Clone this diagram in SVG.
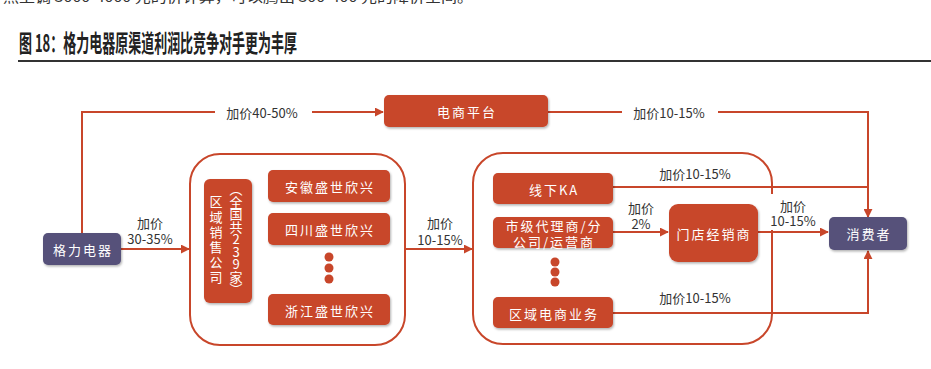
<svg xmlns="http://www.w3.org/2000/svg" width="931" height="369" viewBox="0 0 931 369">
<defs>
<style>
.box{fill:#c8462a;}
.pbox{fill:#56517a;}
.wt{fill:#fff;font-family:"Noto Sans CJK SC","Noto Sans",sans-serif;font-size:13px;letter-spacing:2px;text-anchor:middle;dominant-baseline:central;}
.lb{fill:#333;font-family:"Noto Sans CJK SC","Noto Sans",sans-serif;font-size:13px;text-anchor:middle;dominant-baseline:central;}
.vt{fill:#fff;font-family:"Noto Sans CJK SC","Noto Sans",sans-serif;font-size:13px;writing-mode:vertical-rl;text-orientation:upright;}
.ln{fill:none;stroke:#c8462a;stroke-width:2;}
.frame{fill:none;stroke:#c8462a;stroke-width:2;}
</style>
<marker id="ar" viewBox="0 0 10 10" refX="9" refY="5" markerWidth="4.5" markerHeight="4.5" orient="auto" markerUnits="strokeWidth">
<path d="M0,0 L10,5 L0,10 z" fill="#c8462a"/>
</marker>
<filter id="sh" x="-10%" y="-10%" width="130%" height="140%">
<feDropShadow dx="1" dy="1.5" stdDeviation="1.2" flood-color="#000" flood-opacity="0.3"/>
</filter>
</defs>
<rect width="931" height="369" fill="#fff"/>

<text x="3" y="2" font-family="Noto Sans CJK SC,sans-serif" font-size="14" fill="#333" textLength="470" lengthAdjust="spacingAndGlyphs">照上调 3000-4000 元的价计算，可以腾出 300-400 元的降价空间。</text>

<g id="title">
<text x="19" y="52" font-family="Noto Sans CJK SC,sans-serif" font-size="24" font-weight="bold" fill="#222" textLength="278" lengthAdjust="spacingAndGlyphs">图 18：格力电器原渠道利润比竞争对手更为丰厚</text>
<line x1="18" y1="61" x2="931" y2="61" stroke="#333" stroke-width="2"/>
</g>

<g id="frames">
<rect class="frame" x="190" y="154" width="215" height="191" rx="30"/>
<rect class="frame" x="473" y="153" width="299" height="191" rx="30"/>
</g>

<g id="connectors">
<polyline class="ln" points="82,233 82,112 215,112"/>
<line class="ln" x1="312" y1="112" x2="383" y2="112" marker-end="url(#ar)"/>
<line class="ln" x1="548" y1="112" x2="622" y2="112"/>
<polyline class="ln" points="718,112 868,112 868,217" marker-end="url(#ar)"/>
<line class="ln" x1="121" y1="249" x2="189" y2="249" marker-end="url(#ar)"/>
<line class="ln" x1="405" y1="249" x2="472" y2="249" marker-end="url(#ar)"/>
<line class="ln" x1="613" y1="187" x2="868" y2="187"/>
<line class="ln" x1="613" y1="232" x2="668" y2="232" marker-end="url(#ar)"/>
<line class="ln" x1="758" y1="232" x2="828" y2="232" marker-end="url(#ar)"/>
<polyline class="ln" points="613,313 868,313 868,251" marker-end="url(#ar)"/>
</g>

<g id="labels">
<text class="lb" x="262" y="112">加价40-50%</text>
<text class="lb" x="669" y="112">加价10-15%</text>
<text class="lb" x="150" y="222">加价</text>
<text class="lb" x="150" y="238">30-35%</text>
<text class="lb" x="440" y="222">加价</text>
<text class="lb" x="440" y="239">10-15%</text>
<text class="lb" x="695" y="173">加价10-15%</text>
<text class="lb" x="641" y="207">加价</text>
<text class="lb" x="641" y="223">2%</text>
<rect x="766" y="194" width="52" height="36" fill="#fff"/>
<text class="lb" x="793" y="205">加价</text>
<text class="lb" x="793" y="220">10-15%</text>
<text class="lb" x="695" y="297">加价10-15%</text>
</g>

<g id="gree">
<rect class="pbox" x="43" y="233" width="78" height="32" rx="5" filter="url(#sh)"/>
<text class="wt" x="83" y="249">格力电器</text>
</g>

<g id="ecom">
<rect class="box" x="384" y="95" width="164" height="32" rx="5" filter="url(#sh)"/>
<text class="wt" x="467" y="111">电商平台</text>
</g>

<g id="consumer">
<rect class="pbox" x="829" y="217" width="78" height="33" rx="5" filter="url(#sh)"/>
<text class="wt" x="869" y="233">消费者</text>
</g>

<g id="regional">
<rect class="box" x="204" y="179" width="48" height="124" rx="6" filter="url(#sh)"/>
<text class="vt" x="216" y="195" style="letter-spacing:2.2px">区域销售公司</text>
<text class="vt" x="236" y="183" style="letter-spacing:-0.5px">（全国共239家）</text>
</g>

<g id="anhui">
<rect class="box" x="268" y="170" width="122" height="32" rx="5" filter="url(#sh)"/>
<text class="wt" x="330" y="186">安徽盛世欣兴</text>
</g>
<g id="sichuan">
<rect class="box" x="268" y="213" width="122" height="32" rx="5" filter="url(#sh)"/>
<text class="wt" x="330" y="229">四川盛世欣兴</text>
</g>
<g id="dots1" fill="#c8462a">
<circle cx="329" cy="257" r="4.5"/><circle cx="329" cy="268" r="4.5"/><circle cx="329" cy="279" r="4.5"/>
</g>
<g id="zhejiang">
<rect class="box" x="268" y="294" width="122" height="31" rx="5" filter="url(#sh)"/>
<text class="wt" x="330" y="310">浙江盛世欣兴</text>
</g>

<g id="ka">
<rect class="box" x="493" y="173" width="120" height="31" rx="5" filter="url(#sh)"/>
<text class="wt" x="554" y="189">线下KA</text>
</g>
<g id="agent">
<rect class="box" x="493" y="217" width="120" height="31" rx="5" filter="url(#sh)"/>
<text class="wt" x="554" y="225">市级代理商/分</text>
<text class="wt" x="554" y="241">公司/运营商</text>
</g>
<g id="dots2" fill="#c8462a">
<circle cx="555" cy="262" r="4.5"/><circle cx="555" cy="272" r="4.5"/><circle cx="555" cy="282" r="4.5"/>
</g>
<g id="regional-ecom">
<rect class="box" x="493" y="297" width="120" height="31" rx="5" filter="url(#sh)"/>
<text class="wt" x="554" y="313">区域电商业务</text>
</g>
<g id="store">
<rect class="box" x="669" y="204" width="89" height="58" rx="9" filter="url(#sh)"/>
<text class="wt" x="714" y="233">门店经销商</text>
</g>
</svg>
